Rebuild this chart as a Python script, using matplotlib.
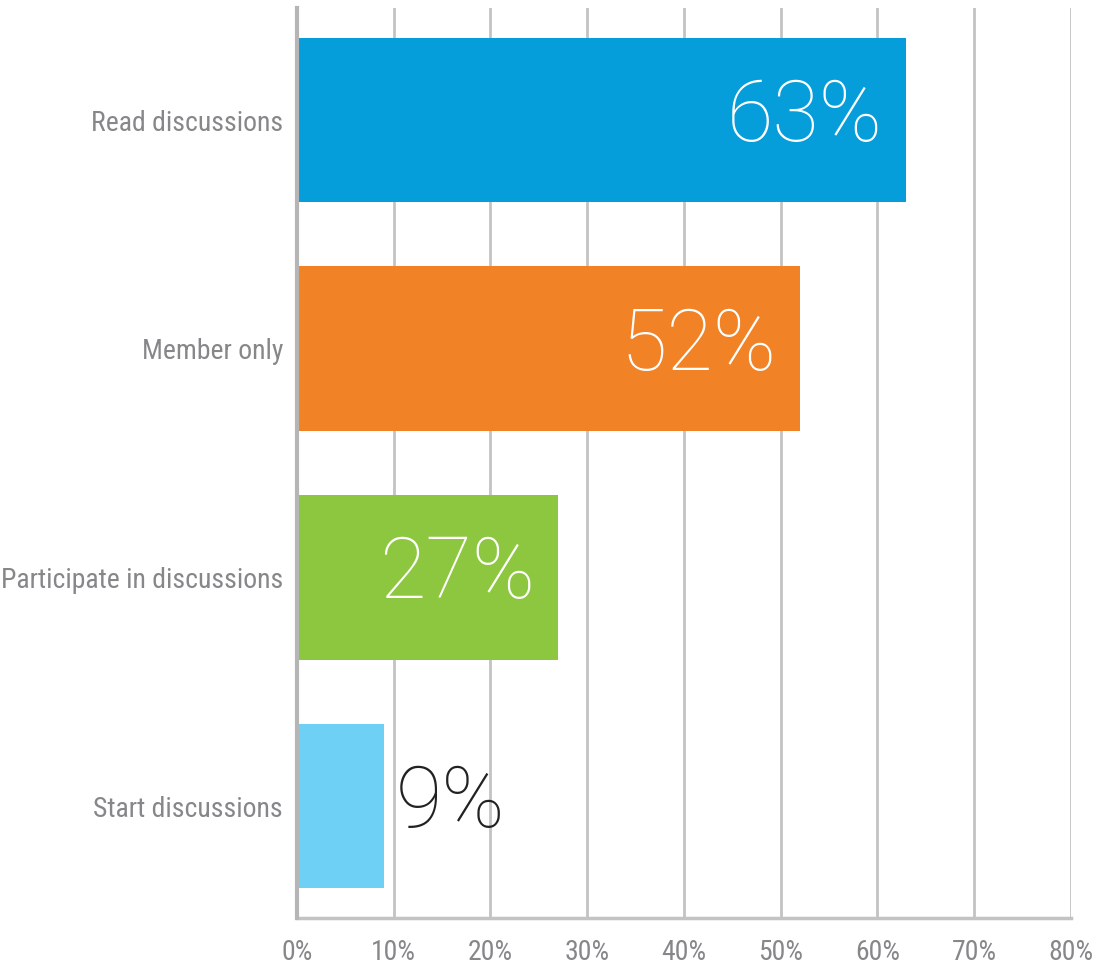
import matplotlib
matplotlib.use("Agg")
import matplotlib.pyplot as plt
from matplotlib import font_manager
from matplotlib.ticker import FuncFormatter

categories = ["Read discussions", "Member only", "Participate in discussions", "Start discussions"]
values = [63, 52, 27, 9]
colors = ["#069ddb", "#f18226", "#8dc63f", "#6fd0f6"]
x_ticks = [0, 10, 20, 30, 40, 50, 60, 70, 80]

installed = {f.name for f in font_manager.fontManager.ttflist}
narrow = [n for n in ("Roboto Condensed", "Liberation Sans Narrow", "Open Sans Condensed") if n in installed]
if narrow:
    label_font, label_size = [narrow[0], "DejaVu Sans"], 20
else:
    label_font, label_size = ["Roboto", "DejaVu Sans"], 16.5
value_font = ["Roboto", "DejaVu Sans"]

fig = plt.figure(figsize=(11.04, 9.69), dpi=100)
ax = fig.add_axes([0.269, 0.0526, 0.701, 0.939])

y = list(range(len(categories)))
ax.barh(y, values, height=0.72, color=colors, zorder=3)

ax.set_xlim(0, 80)
ax.set_ylim(len(categories) - 0.51, -0.49)
ax.set_xticks(x_ticks)
ax.xaxis.set_major_formatter(FuncFormatter(lambda v, p: f"{v:.0f}%"))
ax.set_yticks(y)
ax.set_yticklabels(categories)

ax.grid(axis="x", color="#c3c3c3", linewidth=2, zorder=0)
ax.grid(axis="y", visible=False)
for side in ["top", "right"]:
    ax.spines[side].set_visible(False)
ax.spines["left"].set_color("#b5b5b5")
ax.spines["left"].set_linewidth(3)
ax.spines["bottom"].set_color("#c3c3c3")
ax.spines["bottom"].set_linewidth(2.5)
ax.spines["left"].set_zorder(4)

ax.tick_params(axis="both", length=0, labelcolor="#87878a")
ax.tick_params(axis="x", pad=15)
ax.tick_params(axis="y", pad=10)
for lab in ax.get_xticklabels() + ax.get_yticklabels():
    lab.set_fontfamily(label_font)
    lab.set_fontsize(label_size)
for lab in ax.get_xticklabels():
    lab.set_fontsize(max(label_size, 18))
for lab in ax.get_yticklabels():
    lab.set_y(lab.get_position()[1])

for yi, v in zip(y, values):
    if v > 20:
        ax.text(v - 2.4, yi - 0.01, f"{v}%", ha="right", va="center",
                color="white", fontsize=61, fontweight=100,
                family=value_font, zorder=5)
    else:
        ax.text(v + 1.2, yi - 0.01, f"{v}%", ha="left", va="center",
                color="#222222", fontsize=61, fontweight=100,
                family=value_font, zorder=5)

fig.savefig("out.png", dpi=100, facecolor="white")
